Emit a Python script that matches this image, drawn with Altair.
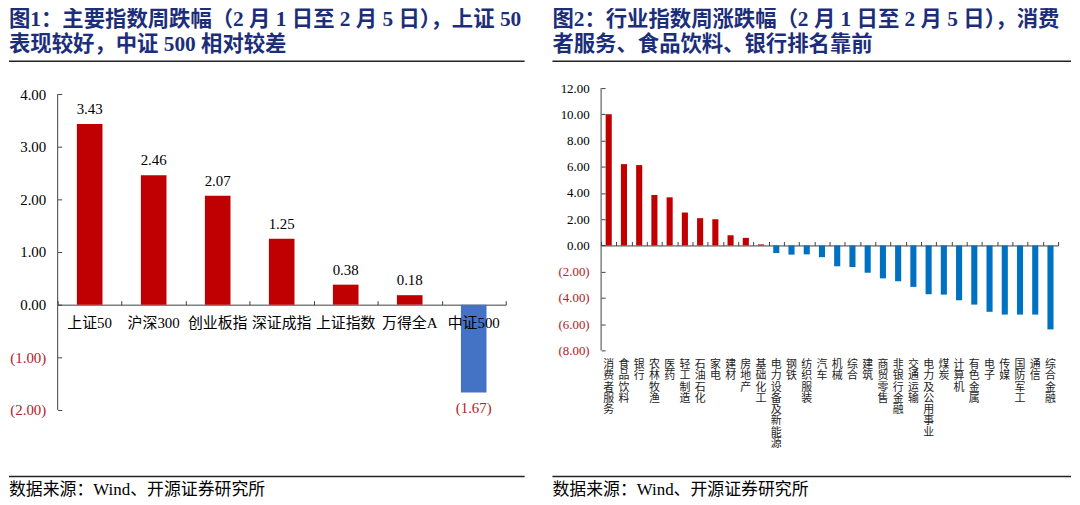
import altair as alt
import pandas as pd

# ---------------- data ----------------
idx_names = ["上证50", "沪深300", "创业板指", "深证成指", "上证指数", "万得全A", "中证500"]
idx_values = [3.43, 2.46, 2.07, 1.25, 0.38, 0.18, -1.67]

ind_names = ["消费者服务", "食品饮料", "银行", "农林牧渔", "医药", "轻工制造", "石油石化", "家电",
             "建材", "房地产", "基础化工", "电力设备及新能源", "钢铁", "纺织服装", "汽车", "机械",
             "综合", "建筑", "商贸零售", "非银行金融", "交通运输", "电力及公用事业", "煤炭", "计算机",
             "有色金属", "电子", "传媒", "国防军工", "通信", "综合金融"]
ind_values = [10.00, 6.20, 6.13, 3.85, 3.67, 2.51, 2.08, 2.00, 0.78, 0.58,
              0.08, -0.58, -0.70, -0.68, -0.89, -1.59, -1.65, -2.08, -2.51, -2.73,
              -3.16, -3.72, -3.75, -4.18, -4.51, -5.06, -5.27, -5.27, -5.27, -6.40]

left_ticks = [-2, -1, 0, 1, 2, 3, 4]
right_ticks = [-8, -6, -4, -2, 0, 2, 4, 6, 8, 10, 12]

left_title = ["图1：主要指数周跌幅（2 月 1 日至 2 月 5 日），上证 50", "表现较好，中证 500 相对较差"]
right_title = ["图2：行业指数周涨跌幅（2 月 1 日至 2 月 5 日），消费", "者服务、食品饮料、银行排名靠前"]
source_text = "数据来源：Wind、开源证券研究所"

# ---------------- style ----------------
SERIF = "Liberation Serif, Noto Sans CJK SC"
RED = "#C00000"
BLUE_L = "#4472C4"
BLUE_R = "#0070C0"
NEG = "#B22222"
AX = "#404040"
NAVY = "#1C2E7A"
THIN = "\u2004"

LABEL_EXPR = ("datum.value < 0 ? '(' + format(-datum.value, '.2f') + ')' : "
              "format(datum.value, '.2f') + '" + THIN + "'")
LABEL_COLOR = {"condition": {"test": "datum.value < 0", "value": NEG}, "value": "black"}

one = pd.DataFrame({"k": [0]})


def decorations(title_lines, rule_x1, rule_x2):
    title = alt.Chart(one).mark_text(
        text=title_lines, align="left", baseline="top", font=SERIF, fontSize=21.5,
        fontWeight="bold", color=NAVY, lineHeight=25
    ).encode(x=alt.value(-49), y=alt.value(-79))
    top_rule = alt.Chart(one).mark_rule(color="#222222", strokeWidth=1.5).encode(
        x=alt.value(rule_x1), x2=alt.value(rule_x2), y=alt.value(-27))
    bottom_rule = alt.Chart(one).mark_rule(color="#222222", strokeWidth=1.5).encode(
        x=alt.value(rule_x1), x2=alt.value(rule_x2), y=alt.value(391))
    src = alt.Chart(one).mark_text(
        text=source_text, align="left", baseline="middle", font=SERIF, fontSize=17, color="black"
    ).encode(x=alt.value(-49), y=alt.value(405))
    return [title, top_rule, bottom_rule, src]


# ---------------- left panel ----------------
WL, HL = 451, 324
L_MIN, L_MAX = -2, 4.113
zero_l = HL * L_MAX / (L_MAX - L_MIN)

df_l = pd.DataFrame({"name": idx_names, "value": idx_values})
df_l["lab"] = [("(%.2f)" % -v) if v < 0 else ("%.2f" % v) for v in idx_values]

ys_l = alt.Scale(domain=[L_MIN, L_MAX], nice=False, zero=False)
x_l = alt.X("name:N", sort=idx_names, scale=alt.Scale(paddingInner=0, paddingOuter=0),
            axis=alt.Axis(orient="top", offset=-zero_l, labels=False, domain=True, domainColor=AX,
                          ticks=True, tickBand="extent", tickSize=4, tickColor=AX, title=None, grid=False))

bars_l = alt.Chart(df_l).mark_bar(width=alt.RelativeBandSize(0.4)).encode(
    x=x_l,
    y=alt.Y("value:Q", scale=ys_l,
            axis=alt.Axis(orient="left", values=left_ticks, labelExpr=LABEL_EXPR, labelColor=LABEL_COLOR,
                          labelFont=SERIF, labelFontSize=15, domain=False, ticks=False, tickSize=0,
                          labelPadding=12, grid=False, title=None)),
    color=alt.condition("datum.value > 0", alt.value(RED), alt.value(BLUE_L)),
)
ticks_l = alt.Chart(df_l).mark_bar(opacity=0).encode(
    x=x_l,
    y=alt.Y("value:Q", scale=ys_l,
            axis=alt.Axis(orient="right", offset=-WL, values=left_ticks, labels=False, domain=False,
                          ticks=True, tickSize=4, tickColor=AX, grid=False, title=None)),
)
yline_l = alt.Chart(one).mark_rule(color=AX).encode(
    x=alt.value(0), y=alt.YDatum(L_MIN, axis=None), y2=alt.datum(4))
cats_l = alt.Chart(df_l).mark_text(dy=18, font=SERIF, fontSize=15, color="black").encode(
    x=x_l, y=alt.YDatum(0, axis=None), text="name:N")
pos_l = alt.Chart(df_l).transform_filter("datum.value >= 0").mark_text(
    dy=-15, font=SERIF, fontSize=15, color="black").encode(
    x=x_l, y=alt.Y("value:Q", axis=None), text="lab:N")
neg_l = alt.Chart(df_l).transform_filter("datum.value < 0").mark_text(
    dy=16, font=SERIF, fontSize=15, color=NEG).encode(
    x=x_l, y=alt.Y("value:Q", axis=None), text="lab:N")

left = alt.layer(bars_l, ticks_l, yline_l, cats_l, pos_l, neg_l,
                 *decorations(left_title, -49, 470)).resolve_axis(y="independent").properties(
    width=WL, height=HL)

# ---------------- right panel ----------------
WR, HR = 460, 264
R_MIN, R_MAX = -8, 12
zero_r = HR * R_MAX / (R_MAX - R_MIN)

df_r = pd.DataFrame({"name": ind_names, "value": ind_values})
ys_r = alt.Scale(domain=[R_MIN, R_MAX], nice=False, zero=False)
x_r = alt.X("name:N", sort=ind_names, scale=alt.Scale(paddingInner=0, paddingOuter=0),
            axis=alt.Axis(orient="top", offset=-zero_r, labels=False, domain=True, domainColor=AX,
                          ticks=True, tickBand="extent", tickSize=4, tickColor=AX, title=None, grid=False))

bars_r = alt.Chart(df_r).mark_bar(width=alt.RelativeBandSize(0.4)).encode(
    x=x_r,
    y=alt.Y("value:Q", scale=ys_r,
            axis=alt.Axis(orient="left", values=right_ticks, labelExpr=LABEL_EXPR, labelColor=LABEL_COLOR,
                          labelFont=SERIF, labelFontSize=13, domain=False, ticks=False, tickSize=0,
                          labelPadding=12, grid=False, title=None)),
    color=alt.condition("datum.value > 0", alt.value(RED), alt.value(BLUE_R)),
)
ticks_r = alt.Chart(df_r).mark_bar(opacity=0).encode(
    x=x_r,
    y=alt.Y("value:Q", scale=ys_r,
            axis=alt.Axis(orient="right", offset=-WR, values=right_ticks, labels=False, domain=False,
                          ticks=True, tickSize=4, tickColor=AX, grid=False, title=None)),
)
yline_r = alt.Chart(one).mark_rule(color=AX).encode(
    x=alt.value(0), y=alt.YDatum(R_MIN, axis=None), y2=alt.datum(R_MAX))
cats_r = alt.Chart(df_r).transform_calculate(
    vlab="join(split(datum.name, ''), '\\n')"
).mark_text(baseline="top", dy=9, font=SERIF, fontSize=11, lineHeight=11.3, lineBreak="\n",
            color="#222222").encode(
    x=x_r, y=alt.YDatum(R_MIN, axis=None), text="vlab:N")

right = alt.layer(bars_r, ticks_r, yline_r, cats_r,
                  *decorations(right_title, -49, 473)).resolve_axis(y="independent").properties(
    width=WR, height=HR)

chart = alt.hconcat(left, right, spacing=26, padding=0).configure_view(stroke=None)
chart.save("out.html", embed_options={"renderer": "svg", "actions": False})
